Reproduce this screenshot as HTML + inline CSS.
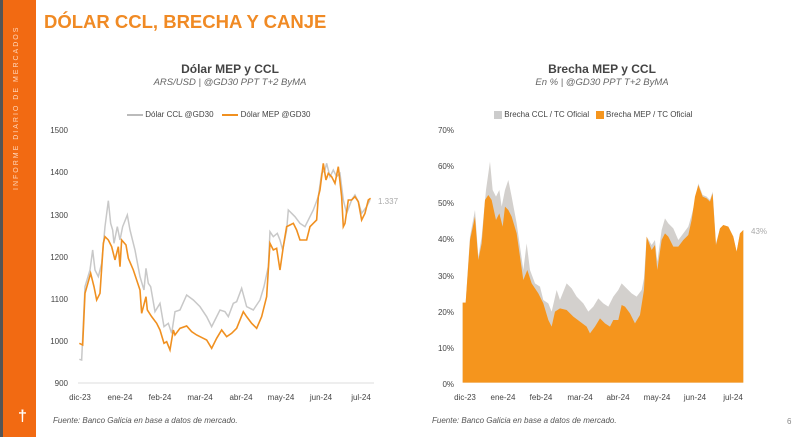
<!DOCTYPE html>
<html><head><meta charset="utf-8"><style>
body{margin:0;width:800px;height:437px;overflow:hidden;background:#fff;font-family:"Liberation Sans",sans-serif;position:relative}
.bar{position:absolute;left:0;top:0;width:36px;height:437px;background:#f26a12;border-left:3px solid #555;box-sizing:border-box}
.vt{position:absolute;left:10px;top:190px;transform:rotate(-90deg);transform-origin:left top;color:#ffd9bf;font-size:7px;letter-spacing:2px;white-space:nowrap}
.t{position:absolute;left:44px;top:11px;color:#f08a24;font-weight:bold;font-size:18.5px}
.ct{position:absolute;font-weight:bold;font-size:12px;color:#444;text-align:center;width:200px}
.cs{position:absolute;font-style:italic;font-size:9.5px;color:#666;text-align:center;width:200px}
.lab{position:absolute;font-size:8px;color:#444}
.fn{position:absolute;top:416px;font-style:italic;font-size:8px;color:#555}
</style></head><body>
<div class="bar"><div class="vt">INFORME DIARIO DE MERCADOS</div>
<div style="position:absolute;left:15px;top:408px;color:#fff;font-size:16px;font-weight:bold">†</div></div>
<div class="t">DÓLAR CCL, BRECHA Y CANJE</div>
<div class="ct" style="left:130px;top:62px">Dólar MEP y CCL</div>
<div class="cs" style="left:130px;top:77px">ARS/USD | @GD30 PPT T+2 ByMA</div>
<div class="ct" style="left:502px;top:62px">Brecha MEP y CCL</div>
<div class="cs" style="left:502px;top:77px">En % | @GD30 PPT T+2 ByMA</div>
<div class="lab" style="left:127px;top:110px"><span style="display:inline-block;width:16px;height:1.5px;background:#bbb;vertical-align:middle"></span> Dólar CCL @GD30 &nbsp;&nbsp; <span style="display:inline-block;width:16px;height:1.5px;background:#f09020;vertical-align:middle"></span> Dólar MEP @GD30</div>
<div class="lab" style="left:494px;top:110px"><span style="display:inline-block;width:8px;height:8px;background:#ccc;vertical-align:middle"></span> Brecha CCL / TC Oficial &nbsp; <span style="display:inline-block;width:8px;height:8px;background:#f5951d;vertical-align:middle"></span> Brecha MEP / TC Oficial</div>
<svg width="800" height="437" style="position:absolute;left:0;top:0" font-family="Liberation Sans" font-size="8" fill="#444">
<g text-anchor="end"><text x="68" y="133">1500</text><text x="68" y="175">1400</text><text x="68" y="218">1300</text><text x="68" y="260">1200</text><text x="68" y="302">1100</text><text x="68" y="344">1000</text><text x="68" y="386">900</text>
<text x="454" y="133">70%</text><text x="454" y="169">60%</text><text x="454" y="206">50%</text><text x="454" y="242">40%</text><text x="454" y="279">30%</text><text x="454" y="315">20%</text><text x="454" y="351">10%</text><text x="454" y="387">0%</text></g>
<line x1="78" y1="383" x2="374" y2="383" stroke="#ddd"/>
<g text-anchor="middle"><text x="80" y="400">dic-23</text><text x="120" y="400">ene-24</text><text x="160" y="400">feb-24</text><text x="200" y="400">mar-24</text><text x="241" y="400">abr-24</text><text x="281" y="400">may-24</text><text x="321" y="400">jun-24</text><text x="361" y="400">jul-24</text>
<text x="465" y="400">dic-23</text><text x="503" y="400">ene-24</text><text x="541" y="400">feb-24</text><text x="580" y="400">mar-24</text><text x="618" y="400">abr-24</text><text x="657" y="400">may-24</text><text x="695" y="400">jun-24</text><text x="733" y="400">jul-24</text></g>
<text x="378" y="204" fill="#aaa">1.337</text><text x="751" y="234" fill="#aaa">43%</text>
<g transform="translate(40,130) scale(0.3333)" fill="none">
<polyline vector-effect="non-scaling-stroke" stroke="#c8c8c8" stroke-width="1.5" points="118,688 125,690 135,470 150,420 158,360 165,420 175,440 185,400 195,290 205,212 212,280 218,300 222,340 232,290 240,330 248,290 262,255 270,300 285,360 300,440 312,480 318,415 325,460 332,470 345,545 360,520 372,590 385,580 395,610 405,545 420,540 440,495 460,510 480,530 500,560 515,590 525,570 540,540 555,545 565,560 580,520 590,515 605,475 620,530 640,540 660,510 672,470 685,410 690,305 700,320 712,310 720,330 728,360 740,300 745,240 755,250 765,260 780,280 795,290 820,240 835,200 845,130 855,120 860,100 870,140 880,120 890,140 900,130 910,210 920,250 935,210 945,195 955,215 965,250 980,230 990,210"/>
<polyline vector-effect="non-scaling-stroke" stroke="#f09020" stroke-width="1.6" points="118,640 128,645 135,490 152,430 162,470 170,510 180,490 190,340 195,320 205,330 215,350 225,390 235,350 240,410 245,330 258,345 265,385 280,420 300,480 305,550 318,500 322,540 335,560 350,580 360,600 372,640 380,635 390,660 400,600 405,615 420,595 440,588 455,605 470,615 490,625 500,630 515,655 530,625 545,600 560,620 575,610 590,595 610,545 620,560 635,580 650,595 665,560 680,500 690,340 700,360 710,355 720,420 730,350 740,290 750,285 760,280 770,300 780,330 800,330 810,290 820,280 830,270 835,200 840,180 850,100 858,150 865,130 875,140 885,160 895,110 905,200 910,290 915,280 925,210 935,210 945,200 955,215 965,270 975,250 985,210 992,205"/>
</g>
<g transform="translate(420,130) scale(0.3333)" stroke="none">
<polygon fill="#d3d0cd" points="128,758 128,518 137,518 150,320 165,240 175,380 185,320 198,180 210,95 218,180 228,200 238,180 245,230 255,180 265,150 275,200 290,280 310,420 320,340 330,420 345,460 360,470 370,510 385,520 395,545 410,480 420,510 440,460 455,475 470,500 490,520 505,545 520,530 535,505 550,520 565,530 580,500 595,480 605,460 620,475 635,490 650,500 665,480 672,445 680,320 695,345 705,330 712,395 725,300 735,265 745,280 760,295 775,330 790,310 805,290 815,255 825,215 835,160 848,195 860,200 870,210 878,185 888,340 900,295 910,285 925,290 940,320 950,365 960,310 970,300 970,758"/>
<polygon fill="#f5951d" points="128,758 128,518 137,518 150,330 165,260 175,390 185,340 195,210 205,195 215,210 228,270 238,250 248,290 255,230 265,240 275,260 290,310 310,450 322,420 335,460 355,490 370,520 385,570 395,590 405,545 420,535 440,540 460,560 480,575 500,590 510,610 525,590 540,565 555,580 570,590 580,570 595,570 605,525 615,530 630,550 645,580 660,555 672,480 680,320 695,360 705,345 712,420 725,330 735,310 745,320 760,350 775,350 790,330 805,315 815,270 825,200 835,165 848,200 860,205 870,215 878,190 888,345 900,295 910,285 925,290 940,320 950,365 960,310 970,300 970,758"/>
</g>
</svg>
<div class="fn" style="left:53px">Fuente: Banco Galicia en base a datos de mercado.</div>
<div class="fn" style="left:432px">Fuente: Banco Galicia en base a datos de mercado.</div>
<div style="position:absolute;left:787px;top:417px;font-size:8px;color:#888">6</div>
</body></html>
